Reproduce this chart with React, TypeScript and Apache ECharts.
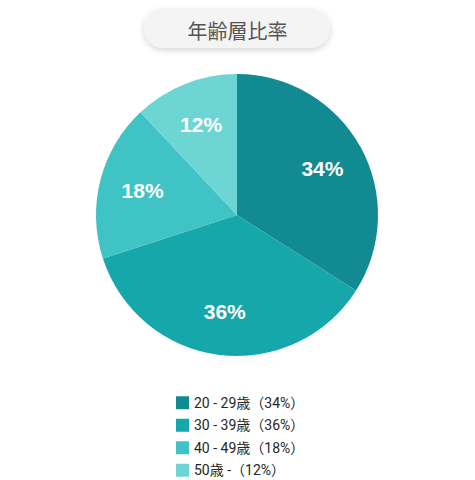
import { useEffect, useRef } from "react";
import * as echarts from "echarts";

const categories = ["20 - 29歳", "30 - 39歳", "40 - 49歳", "50歳 -"];
const shares = [34, 36, 18, 12];
const colors = ["#128a92", "#16a7aa", "#40c3c5", "#6dd6d5"];
const titleText = "年齢層比率";

const FONT = '"Noto Sans CJK JP", "Noto Sans", sans-serif';
const LEGEND_FONT = 'Roboto, "Noto Sans CJK JP", sans-serif';

export default function App() {
  const ref = useRef<HTMLDivElement>(null);

  useEffect(() => {
    if (!ref.current) return;
    const chart = echarts.init(ref.current, null, { renderer: "svg" });

    const data = categories.map((name, i) => ({
      name,
      value: shares[i],
      itemStyle: { color: colors[i] },
    }));

    chart.setOption({
      animation: false,
      backgroundColor: "#ffffff",
      title: {
        text: titleText,
        left: "center",
        top: 15,
        textStyle: { color: "#555555", fontSize: 20, fontWeight: "normal", fontFamily: FONT },
      },
      graphic: [
        {
          type: "rect",
          z: -1,
          shape: { x: 144, y: 9, width: 186, height: 39, r: 19.5 },
          style: {
            fill: "#f4f4f4",
            shadowBlur: 6,
            shadowOffsetY: 2,
            shadowColor: "rgba(0,0,0,0.18)",
          },
        },
      ],
      legend: {
        orient: "vertical",
        left: 176,
        top: 394,
        height: 120,
        padding: 0,
        itemWidth: 13,
        itemHeight: 13,
        itemGap: 5,
        icon: "rect",
        data: categories,
        formatter: (name: string) => {
          const i = categories.indexOf(name);
          return `${name}（${shares[i]}%）`;
        },
        textStyle: { color: "#262626", fontSize: 14, fontFamily: LEGEND_FONT, lineHeight: 17.5 },
      },
      series: [
        {
          type: "pie",
          center: [237, 215],
          radius: [0, 141],
          startAngle: 90,
          clockwise: true,
          silent: true,
          label: { show: false },
          labelLine: { show: false },
          data,
        },
        {
          type: "pie",
          center: [237, 215],
          radius: [48, 141],
          startAngle: 90,
          clockwise: true,
          silent: true,
          itemStyle: { color: "transparent", opacity: 0 },
          label: {
            show: true,
            position: "inside",
            formatter: "{c}%",
            color: "#ffffff",
            fontSize: 21,
            fontWeight: "bold",
            fontFamily: '"Liberation Sans", Arial, sans-serif',
            opacity: 1,
          },
          labelLine: { show: false },
          data: categories.map((name, i) => ({ name, value: shares[i] })),
        },
      ],
    });

    return () => chart.dispose();
  }, []);

  return (
    <div
      ref={ref}
      style={{ position: "absolute", left: 0, top: 0, width: 475, height: 480 }}
    />
  );
}
